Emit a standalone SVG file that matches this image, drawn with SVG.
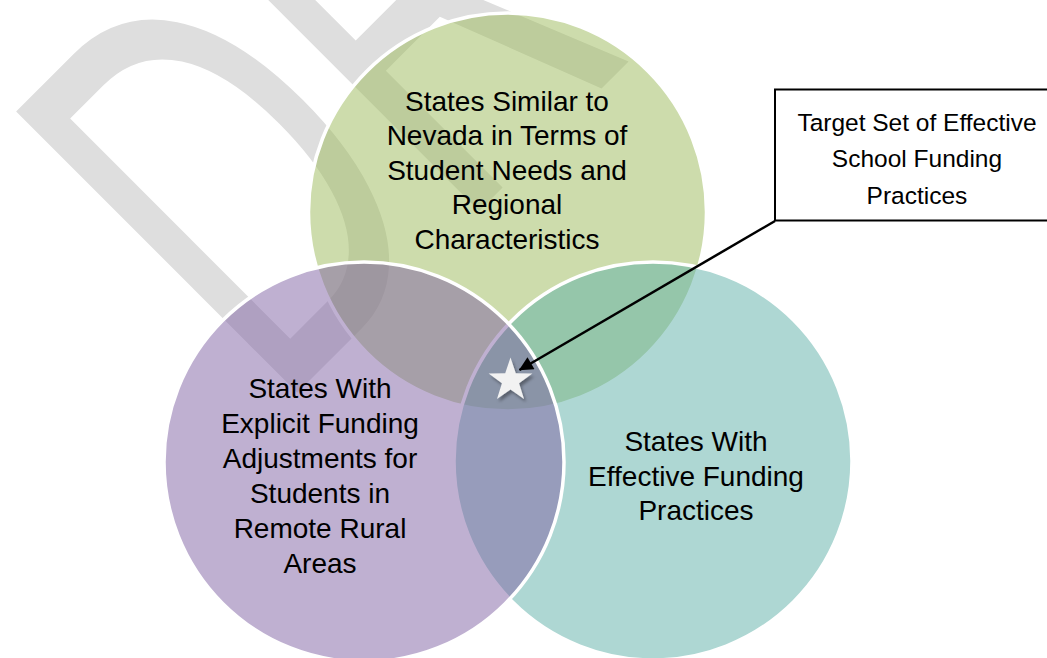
<svg xmlns="http://www.w3.org/2000/svg" width="1047" height="658" viewBox="0 0 1047 658">
  <defs>
    <style>
      .watermark { font-family: "Liberation Sans", Arial, sans-serif; font-size: 578px; fill: #dedede; }
      .set { stroke: #ffffff; stroke-width: 3.5; fill-opacity: 0.5; }
      .set-label { font-family: "Liberation Sans", Arial, sans-serif; font-size: 28px; fill: #000000; text-anchor: middle; }
      .note-box { fill: #ffffff; stroke: #000000; stroke-width: 2; }
      .note-label { font-family: "Liberation Sans", Arial, sans-serif; font-size: 24.5px; fill: #000000; text-anchor: middle; }
      .leader { stroke: #000000; stroke-width: 2.5; fill: none; }
    </style>
    <marker id="arrowhead" viewBox="0 0 10 10" refX="9.5" refY="5" markerWidth="18" markerHeight="14" markerUnits="userSpaceOnUse" orient="auto">
      <path d="M0,0 L10,5 L0,10 Z" fill="#000000"/>
    </marker>
    <filter id="star-shadow" x="-30%" y="-30%" width="160%" height="160%">
      <feDropShadow dx="2" dy="3" stdDeviation="1.5" flood-color="#000000" flood-opacity="0.35"/>
    </filter>
  </defs>

  <rect x="0" y="0" width="1047" height="658" fill="#ffffff"/>

  <!-- background watermark, condensed and turned on the diagonal -->
  <text class="watermark" transform="translate(276.65,413.35) rotate(-45) scale(0.616,1)">DR<tspan dx="160">AFT</tspan></text>

  <!-- set: similar states -->
  <g id="set-similar-states">
    <circle class="set" cx="507.5" cy="212" r="199" fill="#9bb959"/>
    <text class="set-label" x="507" y="110.5">States Similar to</text>
    <text class="set-label" x="507" y="145.1">Nevada in Terms of</text>
    <text class="set-label" x="507" y="179.7">Student Needs and</text>
    <text class="set-label" x="507" y="214.3">Regional</text>
    <text class="set-label" x="507" y="248.9">Characteristics</text>
  </g>

  <!-- set: effective funding practices -->
  <g id="set-effective-practices">
    <circle class="set" cx="653" cy="461" r="199" fill="#5dafa7"/>
    <text class="set-label" x="696" y="451">States With</text>
    <text class="set-label" x="696" y="485.6">Effective Funding</text>
    <text class="set-label" x="696" y="520.2">Practices</text>
  </g>

  <!-- set: rural funding adjustments -->
  <g id="set-rural-adjustments">
    <circle class="set" cx="364" cy="462" r="200" fill="#7f61a3"/>
    <text class="set-label" x="320" y="397.7">States With</text>
    <text class="set-label" x="320" y="432.8">Explicit Funding</text>
    <text class="set-label" x="320" y="467.9">Adjustments for</text>
    <text class="set-label" x="320" y="503">Students in</text>
    <text class="set-label" x="320" y="538">Remote Rural</text>
    <text class="set-label" x="320" y="573">Areas</text>
  </g>

  <!-- intersection marker -->
  <g id="target-star">
    <polygon points="510.5,357.5 515.79,373.22 532.37,373.39 519.06,383.28 524.02,399.11 510.5,389.5 496.98,399.11 501.94,383.28 488.63,373.39 505.21,373.22" fill="#f2f2f2" filter="url(#star-shadow)"/>
  </g>

  <!-- callout box -->
  <g id="target-callout">
    <rect class="note-box" x="775" y="89.5" width="290" height="131"/>
    <text class="note-label" x="917" y="130.5">Target Set of Effective</text>
    <text class="note-label" x="917" y="167.2">School Funding</text>
    <text class="note-label" x="917" y="204">Practices</text>
  </g>

  <!-- connectors -->
  <g id="connectors">
    <line class="leader" x1="775" y1="221" x2="519.5" y2="370" marker-end="url(#arrowhead)"/>
  </g>
</svg>
